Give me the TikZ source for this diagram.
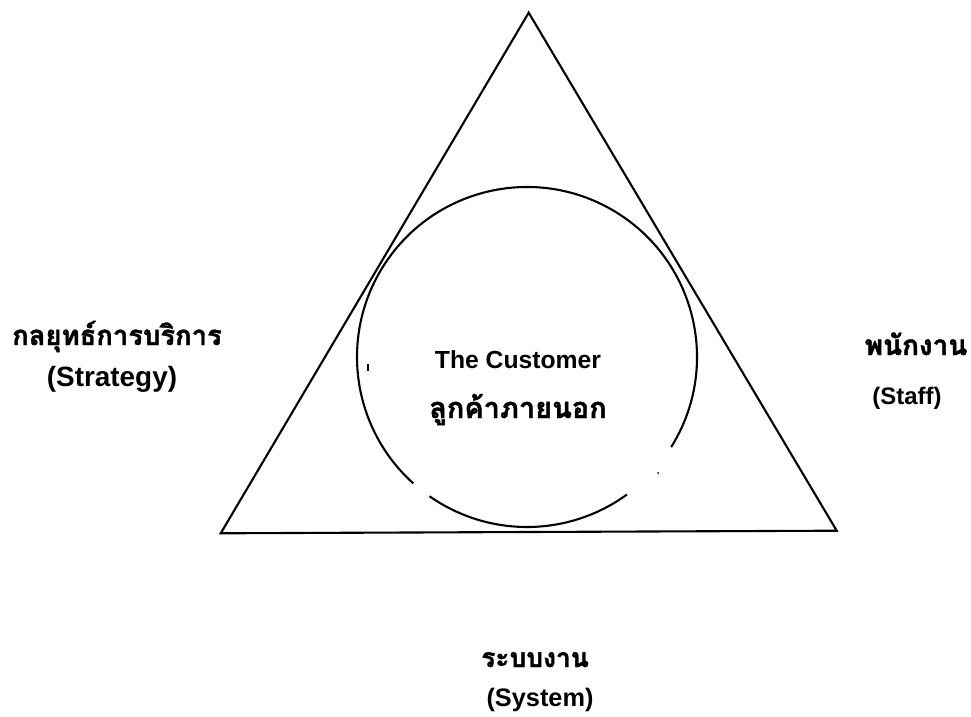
\documentclass[tikz,border=0pt]{standalone}
\usepackage{fontspec}
\setmainfont{Liberation Sans}
\newfontfamily\thaifont[Script=Thai,BoldFeatures={FakeBold=1.5}]{Loma}
\begin{document}
\begin{tikzpicture}[x=1bp,y=-1bp,
  outline/.style={line width=2.1bp,black},
  lbl/.style={anchor=base,inner sep=0pt,font=\fontsize{#1}{26}\selectfont\bfseries},
  thl/.style={anchor=base,inner sep=0pt,font=\fontsize{#1}{28}\selectfont\thaifont\bfseries}]
\useasboundingbox (0,0) rectangle (971,717);
% triangle
\coordinate (apex) at (528.7,12.7);
\coordinate (bl) at (220.7,533.3);
\coordinate (br) at (836.7,530.7);
\draw[outline,line join=miter] (apex) -- (bl) -- (br) -- cycle;
% circle, drawn in two arcs with small gaps as in the picture
\coordinate (cc) at (527,357);
\draw[outline] (cc) ++(32:170) arc[start angle=32, end angle=-228, radius=170];
\draw[outline] (cc) ++(125:170) arc[start angle=125, end angle=54, radius=170];
% small marks
\coordinate (tick) at (368,364);
\draw[line width=1.4bp] (tick) -- ++(0,7);
\fill (658,473) circle[radius=1];
% centre texts
\node[lbl=24.8] (cust) at (518,368) {The Customer};
\node[thl=29] (custth) at (518,418) {ลูกค้าภายนอก};
% left
\node[thl=27.5] (strth) at (117,345) {กลยุทธ์การบริการ};
\node[lbl=28] (str) at (112,386) {(Strategy)};
% right
\node[thl=28] (staffth) at (916,355) {พนักงาน};
\node[lbl=24] (staff) at (907,404) {(Staff)};
% bottom
\node[thl=26.5] (systh) at (535,667) {ระบบงาน};
\node[lbl=25.4] (sys) at (540,706) {(System)};
\end{tikzpicture}
\end{document}
